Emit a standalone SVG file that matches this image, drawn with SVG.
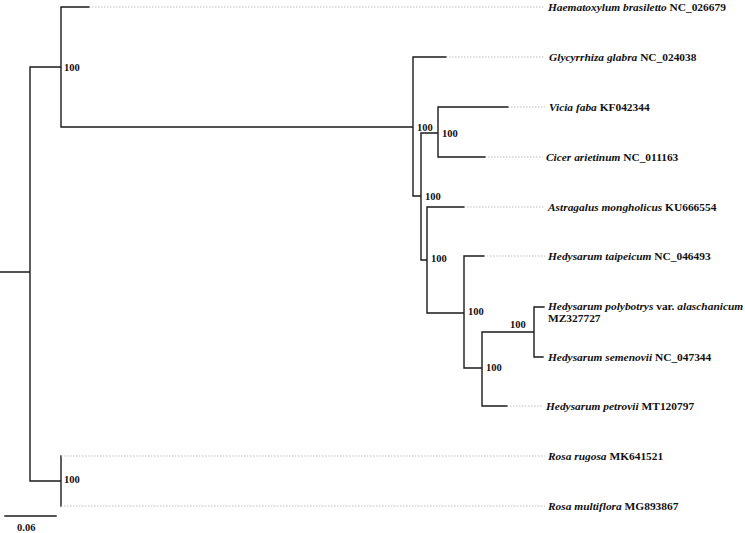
<svg xmlns="http://www.w3.org/2000/svg" width="745" height="533" viewBox="0 0 745 533">
<style>
.b{stroke:#1a1a1a;stroke-width:1.4;fill:none;stroke-linecap:square}
.d{stroke:#b8b8b8;stroke-width:0.9;stroke-dasharray:1.5 1.5;fill:none}
.t{font-family:"Liberation Serif",serif;font-size:11.4px;font-weight:bold;fill:#111}
.i{font-style:italic}
.s{font-family:"Liberation Serif",serif;font-size:10.5px;font-weight:bold;fill:#111}
</style>
<rect width="745" height="533" fill="#fff"/>
<g id="connectors">
<path class="b" d="M0,272H30M30,67V481M30,67H61M61,7V127M61,7H89M61,127H413M413,57V196M413,57H446M413,196H421M421,133V260M421,133H438M438,107V157M438,107H508M438,157H485M421,260H427M427,207V313M427,207H464M427,313H464M464,256V368M464,256H484M464,368H482M482,332V406M482,406H507M482,332H534M534,307V357M534,307H544M534,357H543M30,481H61M61,456V506"/>
<path class="d" d="M89,7H545M446,57H545M508,107H545M485,157H543M464,207H545M484,256H545M507,406H543M61,456H545M61,506H545"/>
<path class="b" d="M5,516H56"/>
</g>
<g id="n_haem"><text class="t" x="548" y="11"><tspan class="i">Haematoxylum brasiletto</tspan> NC_026679</text></g>
<g id="n_glyc"><text class="t" x="549" y="61"><tspan class="i">Glycyrrhiza glabra</tspan> NC_024038</text></g>
<g id="n_vicia"><text class="t" x="549" y="111"><tspan class="i">Vicia faba</tspan> KF042344</text></g>
<g id="n_cicer"><text class="t" x="546" y="161"><tspan class="i">Cicer arietinum</tspan> NC_011163</text></g>
<g id="n_astr"><text class="t" x="548" y="211"><tspan class="i">Astragalus mongholicus</tspan> KU666554</text></g>
<g id="n_taip"><text class="t" x="548" y="260"><tspan class="i">Hedysarum taipeicum</tspan> NC_046493</text></g>
<g id="n_poly"><text class="t" x="548" y="310"><tspan class="i">Hedysarum polybotrys</tspan> var. <tspan class="i">alaschanicum</tspan></text><text class="t" x="548" y="322">MZ327727</text></g>
<g id="n_seme"><text class="t" x="548" y="361"><tspan class="i">Hedysarum semenovii</tspan> NC_047344</text></g>
<g id="n_petr"><text class="t" x="546" y="410"><tspan class="i">Hedysarum petrovii</tspan> MT120797</text></g>
<g id="n_rrug"><text class="t" x="548" y="460"><tspan class="i">Rosa rugosa</tspan> MK641521</text></g>
<g id="n_rmul"><text class="t" x="548" y="510"><tspan class="i">Rosa multiflora</tspan> MG893867</text></g>
<g id="bootstrap">
<text class="s" x="64" y="71">100</text>
<text class="s" x="417" y="131">100</text>
<text class="s" x="442" y="137">100</text>
<text class="s" x="425" y="200">100</text>
<text class="s" x="431" y="262">100</text>
<text class="s" x="468" y="315">100</text>
<text class="s" x="510" y="328">100</text>
<text class="s" x="486" y="371">100</text>
<text class="s" x="64" y="483">100</text>
</g>
<g id="scale"><text class="s" x="17" y="531">0.06</text></g>
</svg>
